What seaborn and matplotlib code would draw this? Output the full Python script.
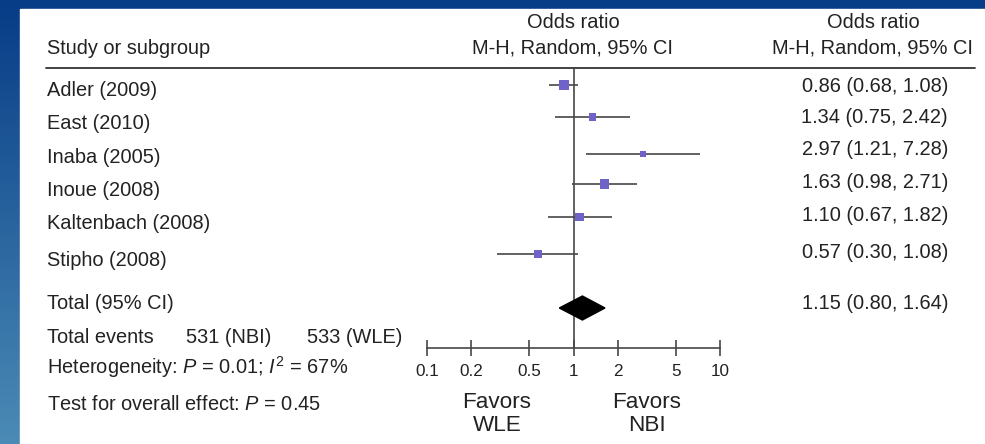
import numpy as np
import matplotlib
matplotlib.use("Agg")
import matplotlib.pyplot as plt
from matplotlib.colors import LinearSegmentedColormap
from matplotlib.patches import Rectangle
import seaborn as sns

# study data
studies = ["Adler (2009)", "East (2010)", "Inaba (2005)", "Inoue (2008)",
           "Kaltenbach (2008)", "Stipho (2008)"]
odds = [0.86, 1.34, 2.97, 1.63, 1.10, 0.57]
ci_low = [0.68, 0.75, 1.21, 0.98, 0.67, 0.30]
ci_high = [1.08, 2.42, 7.28, 2.71, 1.82, 1.08]
weight = [9, 6, 5, 8, 7, 7]

total_or = 1.15
total_low = 0.80
total_high = 1.64
events_nbi = 531
events_wle = 533
het_p = 0.01
i2 = 67
overall_p = 0.45
ticks = [0.1, 0.2, 0.5, 1, 2, 5, 10]

# layout (pixel rows)
row_y = [85, 117, 154, 184, 217, 254]
left_y = [90, 123, 157, 190, 223, 260]
right_y = [86, 117, 149, 182, 215, 252]
total_y = 308

sns.set_style("white")
plt.rcParams["font.family"] = ["Liberation Sans", "DejaVu Sans"]
plt.rcParams["mathtext.fontset"] = "custom"
plt.rcParams["mathtext.rm"] = "Liberation Sans"
plt.rcParams["mathtext.it"] = "Liberation Sans:italic"

W, H = 985, 444
fig = plt.figure(figsize=(W / 100, H / 100), dpi=100)

# blue gradient background + white panel
bg = fig.add_axes([0, 0, 1, 1])
cmap = LinearSegmentedColormap.from_list("bg", ["#073c86", "#4b8bb6"])
bg.imshow(np.linspace(0, 1, 256).reshape(-1, 1), cmap=cmap, aspect="auto",
          extent=[0, W, H, 0])
bg.add_patch(Rectangle((20, 9), W - 20, H - 9, color="white"))
bg.set_xlim(0, W)
bg.set_ylim(H, 0)
bg.axis("off")

txt_c = "#222222"
line_c = "#474747"
fs = 14.4

tx = fig.add_axes([0, 0, 1, 1])
tx.set_xlim(0, W)
tx.set_ylim(H, 0)
tx.axis("off")
tx.patch.set_alpha(0)

# headers
tx.text(47, 48, "Study or subgroup", fontsize=fs, color=txt_c, va="center")
tx.text(573, 23, "Odds ratio", fontsize=fs, color=txt_c, va="center", ha="center")
tx.text(573, 48, "M-H, Random, 95% CI", fontsize=fs, color=txt_c, va="center", ha="center")
tx.text(873, 23, "Odds ratio", fontsize=fs, color=txt_c, va="center", ha="center")
tx.text(873, 48, "M-H, Random, 95% CI", fontsize=fs, color=txt_c, va="center", ha="center")
tx.plot([46, 975], [68, 68], color="#333333", lw=1.3)

for name, o, lo, hi, ly, ry in zip(studies, odds, ci_low, ci_high, left_y, right_y):
    tx.text(47, ly, name, fontsize=fs, color=txt_c, va="center")
    tx.text(948, ry, f"{o:.2f} ({lo:.2f}, {hi:.2f})", fontsize=fs, color=txt_c,
            va="center", ha="right")

tx.text(47, 303, "Total (95% CI)", fontsize=fs, color=txt_c, va="center")
tx.text(948, 303, f"{total_or:.2f} ({total_low:.2f}, {total_high:.2f})",
        fontsize=fs, color=txt_c, va="center", ha="right")
tx.text(47, 337, "Total events", fontsize=fs, color=txt_c, va="center")
tx.text(186, 337, f"{events_nbi} (NBI)", fontsize=fs, color=txt_c, va="center")
tx.text(307, 337, f"{events_wle} (WLE)", fontsize=fs, color=txt_c, va="center")
tx.text(47, 367, f"Heterogeneity: $P$ = {het_p:.2f}; $I^2$ = {i2}%",
        fontsize=fs, color=txt_c, va="center")
tx.text(47, 404, f"Test for overall effect: $P$ = {overall_p:.2f}",
        fontsize=fs, color=txt_c, va="center")
tx.text(497, 414, "Favors\nWLE", fontsize=16.2, color=txt_c, va="center",
        ha="center", linespacing=1.15)
tx.text(647, 414, "Favors\nNBI", fontsize=16.2, color=txt_c, va="center",
        ha="center", linespacing=1.15)

# forest axes: x log scale, y in pixel rows
x0, x1, y_top, y_axis = 427, 720, 68, 348
fa = fig.add_axes([x0 / W, (H - y_axis) / H, (x1 - x0) / W, (y_axis - y_top) / H])
fa.patch.set_alpha(0)
fa.set_xscale("log")
fa.set_xlim(0.1, 10)
fa.set_ylim(y_axis, y_top)

fa.axvline(1, color=line_c, lw=1.2)
fa.hlines(row_y, ci_low, ci_high, color=line_c, lw=1.2, clip_on=False)
sns.scatterplot(x=odds, y=row_y, size=weight, sizes=(18, 52), marker="s",
                color="#6f63c9", edgecolor="none", legend=False, ax=fa, zorder=3)
fa.fill([total_low, total_or, total_high, total_or],
        [total_y, total_y - 12, total_y, total_y + 12], color="black", zorder=4)

for s in ["top", "left", "right"]:
    fa.spines[s].set_visible(False)
fa.spines["bottom"].set_color(line_c)
fa.spines["bottom"].set_linewidth(1.2)
fa.set_yticks([])
fa.set_xticks(ticks)
fa.xaxis.set_minor_locator(matplotlib.ticker.NullLocator())
fa.set_xticklabels([f"{t:g}" for t in ticks])
fa.tick_params(axis="x", direction="inout", length=11.5, width=1.2, color=line_c,
               labelsize=12.3, labelcolor=txt_c, pad=6, bottom=True)

fig.savefig("out.png", dpi=100)
